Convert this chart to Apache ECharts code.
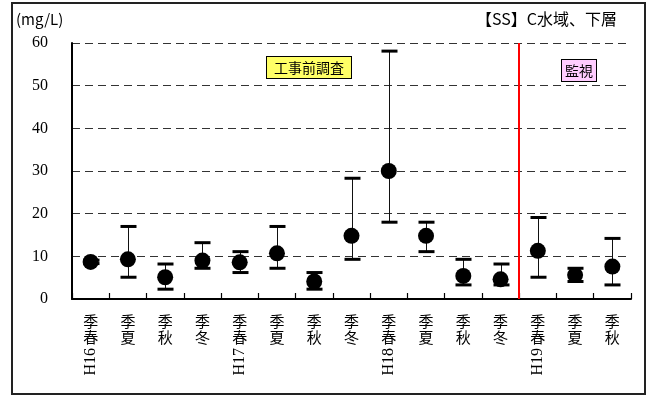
<!DOCTYPE html>
<html>
<head>
<meta charset="utf-8">
<script src="https://cdn.jsdelivr.net/npm/echarts@6/dist/echarts.min.js"></script>
<style>
  html, body { margin: 0; padding: 0; background: #fff; }
  #chart { width: 648px; height: 398px; }
</style>
</head>
<body>
<div id="chart"></div>
<script>
// Survey periods (fiscal year + season)
const categories = ['H16春季', '夏季', '秋季', '冬季', 'H17春季', '夏季', '秋季', '冬季',
                    'H18春季', '夏季', '秋季', '冬季', 'H19春季', '夏季', '秋季'];
// SS (mg/L): mean, maximum and minimum per survey
const meanValues = [8.7, 9.3, 5.1, 9.0, 8.6, 10.7, 4.1, 14.8, 30.0, 14.8, 5.4, 4.6, 11.3, 5.6, 7.6];
const maxValues  = [9.1, 17.0, 8.2, 13.2, 11.1, 17.0, 6.2, 28.3, 58.1, 18.0, 9.3, 8.2, 19.1, 7.2, 14.2];
const minValues  = [8.3, 5.1, 2.3, 7.2, 6.2, 7.2, 2.3, 9.3, 18.0, 11.1, 3.3, 3.3, 5.1, 4.1, 3.3];
// Y axis range and step
const yTicks = [0, 10, 20, 30, 40, 50, 60];
// Monitoring period begins at this survey
const monitoringStart = categories.indexOf('H19春季');

const seasonOf = c => c.replace(/^H\d+/, '');
const yearOf = c => (c.match(/^H\d+/) || [''])[0];

const CJK = '"Noto Sans CJK JP", "Noto Sans", sans-serif';
const SERIF = '"Liberation Serif", "DejaVu Serif", serif';

const chart = echarts.init(document.getElementById('chart'), null, { renderer: 'canvas' });

const option = {
  animation: false,
  backgroundColor: '#fff',
  grid: { left: 72, top: 43, right: 17, bottom: 99, containLabel: false },
  xAxis: [
    {
      type: 'category',
      data: categories,
      position: 'bottom',
      boundaryGap: true,
      axisLine: { show: true, lineStyle: { color: '#000', width: 2 } },
      axisTick: { show: true, inside: true, length: 6, interval: 0, lineStyle: { color: '#000', width: 1.2 } },
      axisLabel: {
        interval: 0,
        margin: 14,
        color: '#000',
        fontFamily: CJK,
        fontSize: 15,
        lineHeight: 16,
        // season characters stacked upright, read bottom to top
        formatter: v => seasonOf(v).split('').reverse().join('\n')
      },
      splitLine: { show: false }
    },
    {
      type: 'category',
      data: categories,
      position: 'bottom',
      boundaryGap: true,
      axisLine: { show: false },
      axisTick: { show: false },
      axisLabel: {
        interval: 0,
        rotate: 90,
        margin: 49,
        color: '#000',
        fontFamily: SERIF,
        fontSize: 16,
        formatter: v => yearOf(v)
      },
      splitLine: { show: false }
    },
    {
      type: 'value',
      min: 0,
      max: categories.length,
      show: false
    }
  ],
  yAxis: {
    type: 'value',
    min: yTicks[0],
    max: yTicks[yTicks.length - 1],
    interval: yTicks[1] - yTicks[0],
    axisLine: { show: true, lineStyle: { color: '#000', width: 2 } },
    axisTick: { show: false },
    axisLabel: { margin: 24, color: '#000', fontFamily: SERIF, fontSize: 16 },
    splitLine: { show: true, lineStyle: { color: '#333', type: [8, 5], width: 1 } }
  },
  series: [
    {
      name: 'range',
      type: 'custom',
      xAxisIndex: 0,
      data: categories.map((c, i) => [i, minValues[i], maxValues[i]]),
      encode: { x: 0, y: [1, 2] },
      z: 2,
      renderItem: (params, api) => {
        const i = api.value(0);
        const lo = api.coord([i, api.value(1)]);
        const hi = api.coord([i, api.value(2)]);
        const half = 8;
        const x = Math.round(lo[0]) + 0.5;
        return {
          type: 'group',
          children: [
            { type: 'line', shape: { x1: x, y1: lo[1], x2: x, y2: hi[1] },
              style: { stroke: '#111', lineWidth: 1 } },
            { type: 'line', shape: { x1: x - half, y1: hi[1], x2: x + half, y2: hi[1] },
              style: { stroke: '#000', lineWidth: 3 } },
            { type: 'line', shape: { x1: x - half, y1: lo[1], x2: x + half, y2: lo[1] },
              style: { stroke: '#000', lineWidth: 3 } }
          ]
        };
      }
    },
    {
      name: 'mean',
      type: 'scatter',
      xAxisIndex: 0,
      data: categories.map((c, i) => [i, meanValues[i]]),
      symbol: 'circle',
      symbolSize: 16,
      itemStyle: { color: '#000', opacity: 1 },
      z: 3
    },
    {
      name: 'period',
      type: 'line',
      xAxisIndex: 2,
      data: [],
      markLine: {
        silent: true,
        symbol: 'none',
        label: { show: false },
        lineStyle: { color: '#ff0000', width: 2, type: 'solid' },
        data: [{ xAxis: monitoringStart }]
      }
    }
  ],
  graphic: [
    {
      type: 'rect',
      shape: { x: 12, y: 3, width: 633, height: 391 },
      style: { fill: null, stroke: '#222', lineWidth: 2 },
      silent: true
    },
    {
      type: 'text',
      x: 16, y: 19,
      style: { text: '(mg/L)', fontFamily: CJK, fontSize: 15, fill: '#000', textVerticalAlign: 'middle' }
    },
    {
      type: 'text',
      x: 617, y: 19,
      style: { text: '【SS】C水域、下層', fontFamily: CJK, fontSize: 16, fill: '#000',
               textAlign: 'right', textVerticalAlign: 'middle' }
    },
    {
      type: 'text',
      x: 267, y: 57,
      z: 10,
      style: { text: '工事前調査', fontFamily: CJK, fontSize: 14, lineHeight: 16, fill: '#000',
               backgroundColor: '#ffff66', borderColor: '#000', borderWidth: 1, padding: [3, 7, 2, 7] }
    },
    {
      type: 'text',
      x: 562, y: 60,
      z: 10,
      style: { text: '監視', fontFamily: CJK, fontSize: 14, lineHeight: 16, fill: '#000',
               backgroundColor: '#ffccff', borderColor: '#000', borderWidth: 1, padding: [3, 3, 2, 3] }
    }
  ]
};

chart.setOption(option);
</script>
</body>
</html>
